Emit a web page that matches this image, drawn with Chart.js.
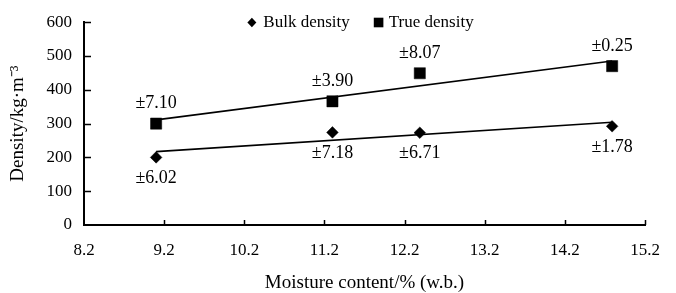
<!DOCTYPE html>
<html>
<head>
<meta charset="utf-8">
<script src="https://cdn.jsdelivr.net/npm/chart.js@4/dist/chart.umd.min.js"></script>
<style>
html, body { margin: 0; padding: 0; background: #fff; }
#wrap { width: 676px; height: 293px; }
</style>
</head>
<body>
<div id="wrap"><canvas id="grafico"></canvas></div>
<script>
// valores
const moisture = [9.10, 11.30, 12.39, 14.79];
const bulkDensity = [200, 274, 273, 292];
const trueDensity = [300, 366, 449, 470];
const bulkErr = ['±6.02', '±7.18', '±6.71', '±1.78'];
const trueErr = ['±7.10', '±3.90', '±8.07', '±0.25'];

// lineas de tendencia (extremos)
const trendX = [9.10, 14.79];
const bulkTrend = [217, 304];
const trueTrend = [311, 485];

const xTicks = [8.2, 9.2, 10.2, 11.2, 12.2, 13.2, 14.2, 15.2];
const yTicks = [0, 100, 200, 300, 400, 500, 600];

const serif = "'Liberation Serif', 'Times New Roman', serif";

function puntos(xs, ys) {
  return xs.map((x, i) => ({ x: x, y: ys[i] }));
}

// etiquetas de error sobre / bajo los puntos
const errorLabels = {
  id: 'errorLabels',
  afterDatasetsDraw(chart) {
    const ctx = chart.ctx;
    ctx.save();
    ctx.font = '18px ' + serif;
    ctx.fillStyle = '#000';
    ctx.textAlign = 'center';
    ctx.textBaseline = 'middle';
    chart.data.datasets.forEach((ds, i) => {
      if (!ds.errs) return;
      chart.getDatasetMeta(i).data.forEach((pt, j) => {
        const dy = ds.errPos === 'above' ? -20 : 21;
        ctx.fillText(ds.errs[j], pt.x, pt.y + dy);
      });
    });
    ctx.restore();
  }
};

// marcas de los ejes hacia dentro
const innerTicks = {
  id: 'innerTicks',
  afterDraw(chart) {
    const ctx = chart.ctx;
    const x = chart.scales.x, y = chart.scales.y;
    const area = chart.chartArea;
    ctx.save();
    ctx.strokeStyle = '#000';
    ctx.lineWidth = 1.5;
    ctx.beginPath();
    xTicks.slice(1).forEach(v => {
      const px = Math.round(x.getPixelForValue(v)) + 0.5;
      ctx.moveTo(px, area.bottom);
      ctx.lineTo(px, area.bottom - 5);
    });
    yTicks.slice(1).forEach(v => {
      const py = Math.round(y.getPixelForValue(v)) + 0.5;
      ctx.moveTo(area.left, py);
      ctx.lineTo(area.left + 7, py);
    });
    ctx.stroke();
    ctx.restore();
  }
};

// leyenda arriba
const leyenda = {
  id: 'leyenda',
  afterDraw(chart) {
    const ctx = chart.ctx;
    const area = chart.chartArea;
    ctx.save();
    ctx.font = '17px ' + serif;
    ctx.fillStyle = '#000';
    ctx.textBaseline = 'middle';
    const t1 = chart.data.datasets[0].label;
    const t2 = chart.data.datasets[1].label;
    const w1 = ctx.measureText(t1).width;
    const w2 = ctx.measureText(t2).width;
    const total = 16 + w1 + 24 + 15 + w2;
    let x0 = (area.left + area.right) / 2 - 4 - total / 2;
    const yc = 22.5;
    // rombo
    ctx.beginPath();
    ctx.moveTo(x0, yc);
    ctx.lineTo(x0 + 4.5, yc - 4.7);
    ctx.lineTo(x0 + 9, yc);
    ctx.lineTo(x0 + 4.5, yc + 4.7);
    ctx.closePath();
    ctx.fill();
    ctx.fillText(t1, x0 + 16, yc);
    let x1 = x0 + 16 + w1 + 24;
    ctx.fillRect(x1, yc - 4.8, 9.6, 9.6);
    ctx.fillText(t2, x1 + 15, yc);
    ctx.restore();
  }
};

const data = {
  datasets: [{
    label: 'Bulk density',
    data: puntos(moisture, bulkDensity),
    pointStyle: 'rectRot',
    pointRadius: 5.8,
    backgroundColor: '#000',
    borderColor: '#000',
    borderWidth: 0.5,
    errs: bulkErr,
    errPos: 'below',
    order: 1
  },
  {
    label: 'True density',
    data: puntos(moisture, trueDensity),
    pointStyle: 'rect',
    pointRadius: 7.9,
    backgroundColor: '#000',
    borderColor: '#000',
    borderWidth: 0.5,
    errs: trueErr,
    errPos: 'above',
    order: 1
  },
  {
    label: 'bulk trend',
    data: puntos(trendX, bulkTrend),
    showLine: true,
    pointRadius: 0,
    borderColor: '#000',
    borderWidth: 1.6,
    order: 2
  },
  {
    label: 'true trend',
    data: puntos(trendX, trueTrend),
    showLine: true,
    pointRadius: 0,
    borderColor: '#000',
    borderWidth: 1.6,
    order: 2
  }]
};

const config = {
  type: 'scatter',
  data: data,
  options: {
    responsive: true,
    maintainAspectRatio: false,
    animation: false,
    events: [],
    layout: { padding: { left: 0, right: 31, top: 22, bottom: 0 } },
    plugins: {
      legend: { display: false },
      tooltip: { enabled: false }
    },
    scales: {
      x: {
        type: 'linear',
        min: 8.2,
        max: 15.2,
        afterBuildTicks: s => { s.ticks = xTicks.map(v => ({ value: v })); },
        afterFit: s => { s.height = 68; },
        grid: { display: true, drawOnChartArea: false, drawTicks: false },
        border: { display: true, color: '#000', width: 2 },
        ticks: {
          color: '#000',
          padding: 15,
          font: { family: serif, size: 17 },
          callback: v => v.toFixed(1)
        },
        title: {
          display: true,
          text: 'Moisture content/% (w.b.)',
          color: '#000',
          padding: 0,
          font: { family: serif, size: 19, lineHeight: 1 }
        }
      },
      y: {
        min: 0,
        max: 600,
        afterBuildTicks: s => { s.ticks = yTicks.map(v => ({ value: v })); },
        afterFit: s => { s.width = 84; },
        grid: { display: true, drawOnChartArea: false, drawTicks: false },
        border: { display: true, color: '#000', width: 2 },
        ticks: {
          color: '#000',
          padding: 12,
          font: { family: serif, size: 17 }
        },
        title: {
          display: true,
          text: 'Density/kg·m⁻³',
          color: '#000',
          padding: { top: 7, bottom: 0 },
          font: { family: serif, size: 19 }
        }
      }
    }
  },
  plugins: [errorLabels, innerTicks, leyenda]
};

new Chart(document.getElementById('grafico'), config);
</script>
</body>
</html>
